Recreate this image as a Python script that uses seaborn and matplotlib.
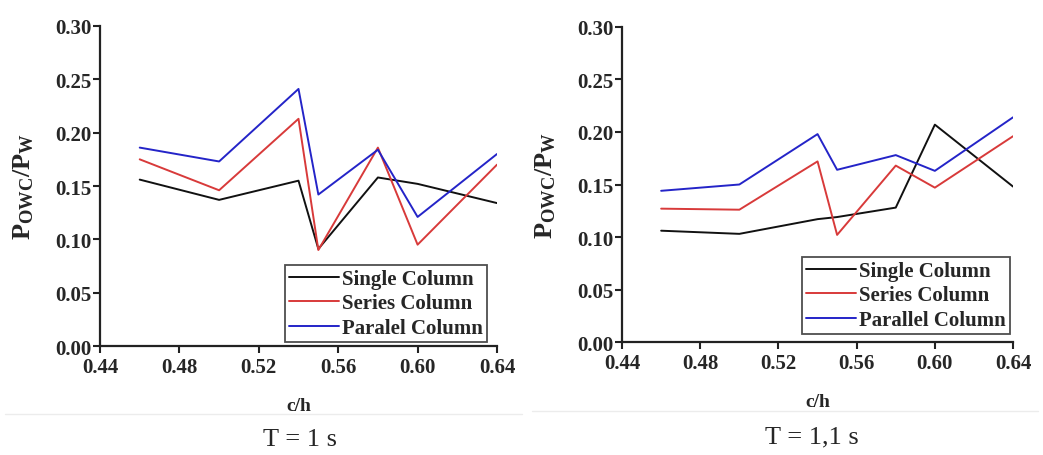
import pandas as pd
import matplotlib
matplotlib.use('Agg')
import matplotlib.pyplot as plt
import seaborn as sns

###############################################################################

c_h = [0.46, 0.50, 0.54, 0.55, 0.58, 0.60, 0.64]

single_t1   = [0.156, 0.137, 0.155, 0.091, 0.158, 0.152, 0.134]
series_t1   = [0.175, 0.146, 0.213, 0.090, 0.186, 0.095, 0.170]
parallel_t1 = [0.186, 0.173, 0.241, 0.142, 0.184, 0.121, 0.180]

single_t11   = [0.106, 0.103, 0.117, 0.119, 0.128, 0.207, 0.148]
series_t11   = [0.127, 0.126, 0.172, 0.102, 0.168, 0.147, 0.196]
parallel_t11 = [0.144, 0.150, 0.198, 0.164, 0.178, 0.163, 0.214]

labels_t1  = ['Single Column', 'Series Column', 'Paralel Column']
labels_t11 = ['Single Column', 'Series Column', 'Parallel Column']
captions   = ['T = 1 s', 'T = 1,1 s']

x_ticks = [0.44, 0.48, 0.52, 0.56, 0.60, 0.64]
y_ticks = [0.00, 0.05, 0.10, 0.15, 0.20, 0.25, 0.30]

colors = ['#111111', '#d83a3a', '#2424c8']

###############################################################################

sns.set_style('ticks')
plt.rcParams['font.family'] = ['Liberation Serif', 'DejaVu Serif']
plt.rcParams['font.weight'] = 'bold'
plt.rcParams['mathtext.fontset'] = 'custom'
plt.rcParams['mathtext.rm'] = 'Liberation Serif:bold'
plt.rcParams['mathtext.it'] = 'Liberation Serif:bold'
plt.rcParams['mathtext.bf'] = 'Liberation Serif:bold'


def long_frame(series_values, labels):
    rows = []
    for vals, lab in zip(series_values, labels):
        for x, y in zip(c_h, vals):
            rows.append({'c/h': x, 'value': y, 'series': lab})
    return pd.DataFrame(rows)


def draw_panel(ax, data_frame, labels, legend_anchor):
    palette = dict(zip(labels, colors))
    sns.lineplot(
        data=data_frame,
        x='c/h',
        y='value',
        hue='series',
        hue_order=labels,
        palette=palette,
        linewidth=1.4,
        ax=ax)
    ax.set_xlim(0.44, 0.64)
    ax.set_ylim(0.0, 0.30)
    ax.set_xticks(x_ticks)
    ax.set_yticks(y_ticks)
    ax.set_xticklabels([f'{t:.2f}' for t in x_ticks], fontsize=15, fontweight='bold')
    ax.set_yticklabels([f'{t:.2f}' for t in y_ticks], fontsize=15, fontweight='bold')
    ax.tick_params(axis='x', pad=3)
    ax.tick_params(direction='out', length=5, width=1.5, color='#222222')
    ax.tick_params(axis='y', pad=1)
    for side in ['left', 'bottom']:
        ax.spines[side].set_linewidth(1.6)
        ax.spines[side].set_color('#222222')
    sns.despine(ax=ax)
    ax.set_xlabel('c/h', fontsize=14, fontweight='bold', labelpad=14)
    ax.set_ylabel(r'$\mathregular{P_{OWC}/P_W}$', fontsize=19, fontweight='bold', labelpad=14)
    leg = ax.legend(
        loc='lower right',
        bbox_to_anchor=legend_anchor,
        borderaxespad=0,
        frameon=True,
        fancybox=False,
        edgecolor='#222222',
        handlelength=2.4,
        handletextpad=0.15,
        labelspacing=0.22,
        borderpad=0.2,
        prop={'weight': 'bold', 'size': 15})
    leg.get_frame().set_linewidth(1.3)


fig = plt.figure(figsize=(10.43, 4.56), dpi=100)
ax1 = fig.add_axes([0.0959, 0.239, 0.3806, 0.7018])
ax2 = fig.add_axes([0.5964, 0.2478, 0.3749, 0.6908])

draw_panel(ax1, long_frame([single_t1, series_t1, parallel_t1], labels_t1), labels_t1, (0.975, 0.012))
draw_panel(ax2, long_frame([single_t11, series_t11, parallel_t11], labels_t11), labels_t11, (0.992, 0.025))

# faint frame lines of the original layout
fig.add_artist(plt.Line2D([0.005, 0.5], [1 - 415 / 456, 1 - 415 / 456], color='#ececec', linewidth=1))
fig.add_artist(plt.Line2D([0.51, 0.995], [1 - 412 / 456, 1 - 412 / 456], color='#ececec', linewidth=1))

fig.text(300 / 1043, 1 - 440 / 456, captions[0], ha='center', va='center', fontsize=19, fontweight='normal')
fig.text(812 / 1043, 1 - 437 / 456, captions[1], ha='center', va='center', fontsize=19, fontweight='normal')

fig.savefig('out.png', dpi=100)
plt.close(fig)
